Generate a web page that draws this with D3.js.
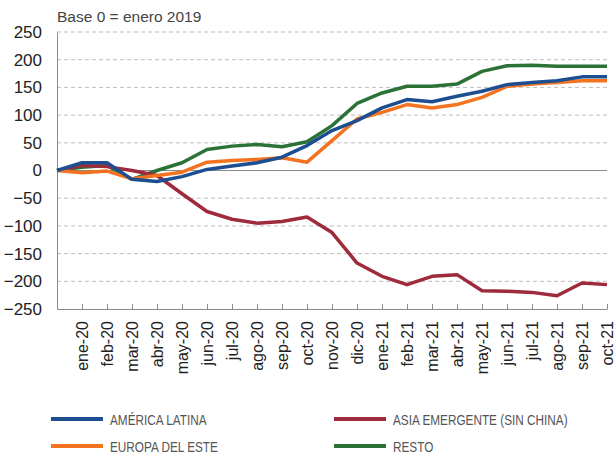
<!DOCTYPE html>
<meta charset="utf-8">
<style>
  body { margin: 0; background: #fff; }
  svg text { font-family: "Liberation Sans", Arial, sans-serif; }
  .grid line { stroke: #bdbdbd; stroke-dasharray: 4,3; }
  .line { fill: none; stroke-width: 3.5px; stroke-linejoin: round; }
  .legend text { font-size: 15.5px; fill: #555; }
</style>
<body>
<svg id="chart" width="615" height="456"></svg>
<script src="https://d3js.org/d3.v7.min.js"></script>
<script>

// first point is the base (no label)
var months = ["", "ene-20", "feb-20", "mar-20", "abr-20", "may-20", "jun-20", "jul-20", "ago-20", "sep-20", "oct-20",
  "nov-20", "dic-20", "ene-21", "feb-21", "mar-21", "abr-21", "may-21", "jun-21", "jul-21", "ago-21", "sep-21", "oct-21"];

var americaLatina = [0, 14, 14, -16, -20, -11, 2, 8, 14, 24, 45, 72, 90, 113, 128, 124, 134, 143, 155, 159, 162, 169, 169];
var asiaEmergente = [0, 9, 7, 0, -9, -42, -74, -88, -95, -92, -84, -112, -167, -191, -206, -191, -188, -217, -218, -220, -226, -203, -206];
var europaEste = [0, -4, -1, -15, -9, -3, 15, 18, 20, 23, 15, 54, 93, 105, 119, 113, 119, 132, 152, 156, 159, 162, 162];
var resto = [0, 6, 9, -16, 0, 14, 38, 44, 47, 43, 52, 81, 121, 140, 152, 152, 156, 179, 189, 190, 188, 188, 188];

var yTicks = [250, 200, 150, 100, 50, 0, -50, -100, -150, -200, -250];

var series = [
  {name: "AMÉRICA LATINA", values: americaLatina, color: "#1d4e8f"},
  {name: "ASIA EMERGENTE (SIN CHINA)", values: asiaEmergente, color: "#9e2a3c"},
  {name: "EUROPA DEL ESTE", values: europaEste, color: "#f47320"},
  {name: "RESTO", values: resto, color: "#2b7237"}
];

const svg = d3.select('#chart');
const mLeft = 57, mRight = 607, mTop = 32, mBottom = 309;

var x = d3.scalePoint().domain(d3.range(months.length)).range([mLeft, mRight]);
var y = d3.scaleLinear().domain([-250, 250]).range([mBottom, mTop]);

// title
svg.append('text')
  .attr('x', 57).attr('y', 22)
  .style('font-size', '15.5px').style('fill', '#444')
  .text('Base 0 = enero 2019');

// dashed grid
svg.append('g').attr('class', 'grid')
  .selectAll('line')
  .data(yTicks.filter(d => d !== 0 && d !== -250))
  .enter().append('line')
  .attr('x1', mLeft).attr('x2', mRight)
  .attr('y1', d => y(d)).attr('y2', d => y(d));

// zero line
svg.append('line')
  .attr('x1', mLeft).attr('x2', mRight)
  .attr('y1', y(0)).attr('y2', y(0))
  .style('stroke', '#8a8a8a');

// y axis
var yAxis = svg.append('g')
  .attr('transform', `translate(${mLeft},0)`)
  .call(d3.axisLeft(y).tickValues(yTicks).tickSize(0).tickPadding(15));
yAxis.select('.domain').style('stroke', '#8a8a8a');
yAxis.selectAll('text').style('font-size', '17px').style('fill', '#222')
  .attr('font-family', null);

// x axis (ticks point inward)
var xAxis = svg.append('g')
  .attr('transform', `translate(0,${mBottom})`)
  .call(d3.axisBottom(x).tickSize(-5).tickSizeOuter(0).tickFormat(i => months[i]));
xAxis.select('.domain').style('stroke', '#8a8a8a');
xAxis.selectAll('.tick line').style('stroke', '#8a8a8a');
xAxis.selectAll('text')
  .style('font-size', '16px').style('fill', '#222')
  .attr('font-family', null)
  .attr('text-anchor', 'end')
  .attr('transform', 'rotate(-90)')
  .attr('x', -12).attr('y', 0).attr('dy', '0.33em');

// lines
var line = d3.line()
  .x((d, i) => x(i))
  .y(d => y(d));

var drawOrder = [series[3], series[1], series[2], series[0]];
svg.selectAll('.line')
  .data(drawOrder)
  .enter().append('path')
  .attr('class', 'line')
  .attr('d', d => line(d.values))
  .style('stroke', d => d.color);

// legend (condensed look)
var legendPos = [[51, 419], [334, 419], [51, 446], [334, 446]];
var legend = svg.append('g').attr('class', 'legend')
  .selectAll('g')
  .data(series)
  .enter().append('g')
  .attr('transform', (d, i) => `translate(${legendPos[i][0]},${legendPos[i][1]})`);

legend.append('line')
  .attr('x1', 0).attr('x2', 52)
  .style('stroke', d => d.color)
  .style('stroke-width', 4);

legend.append('text')
  .attr('transform', 'translate(59,5.5) scale(0.76,1)')
  .text(d => d.name);

</script>
